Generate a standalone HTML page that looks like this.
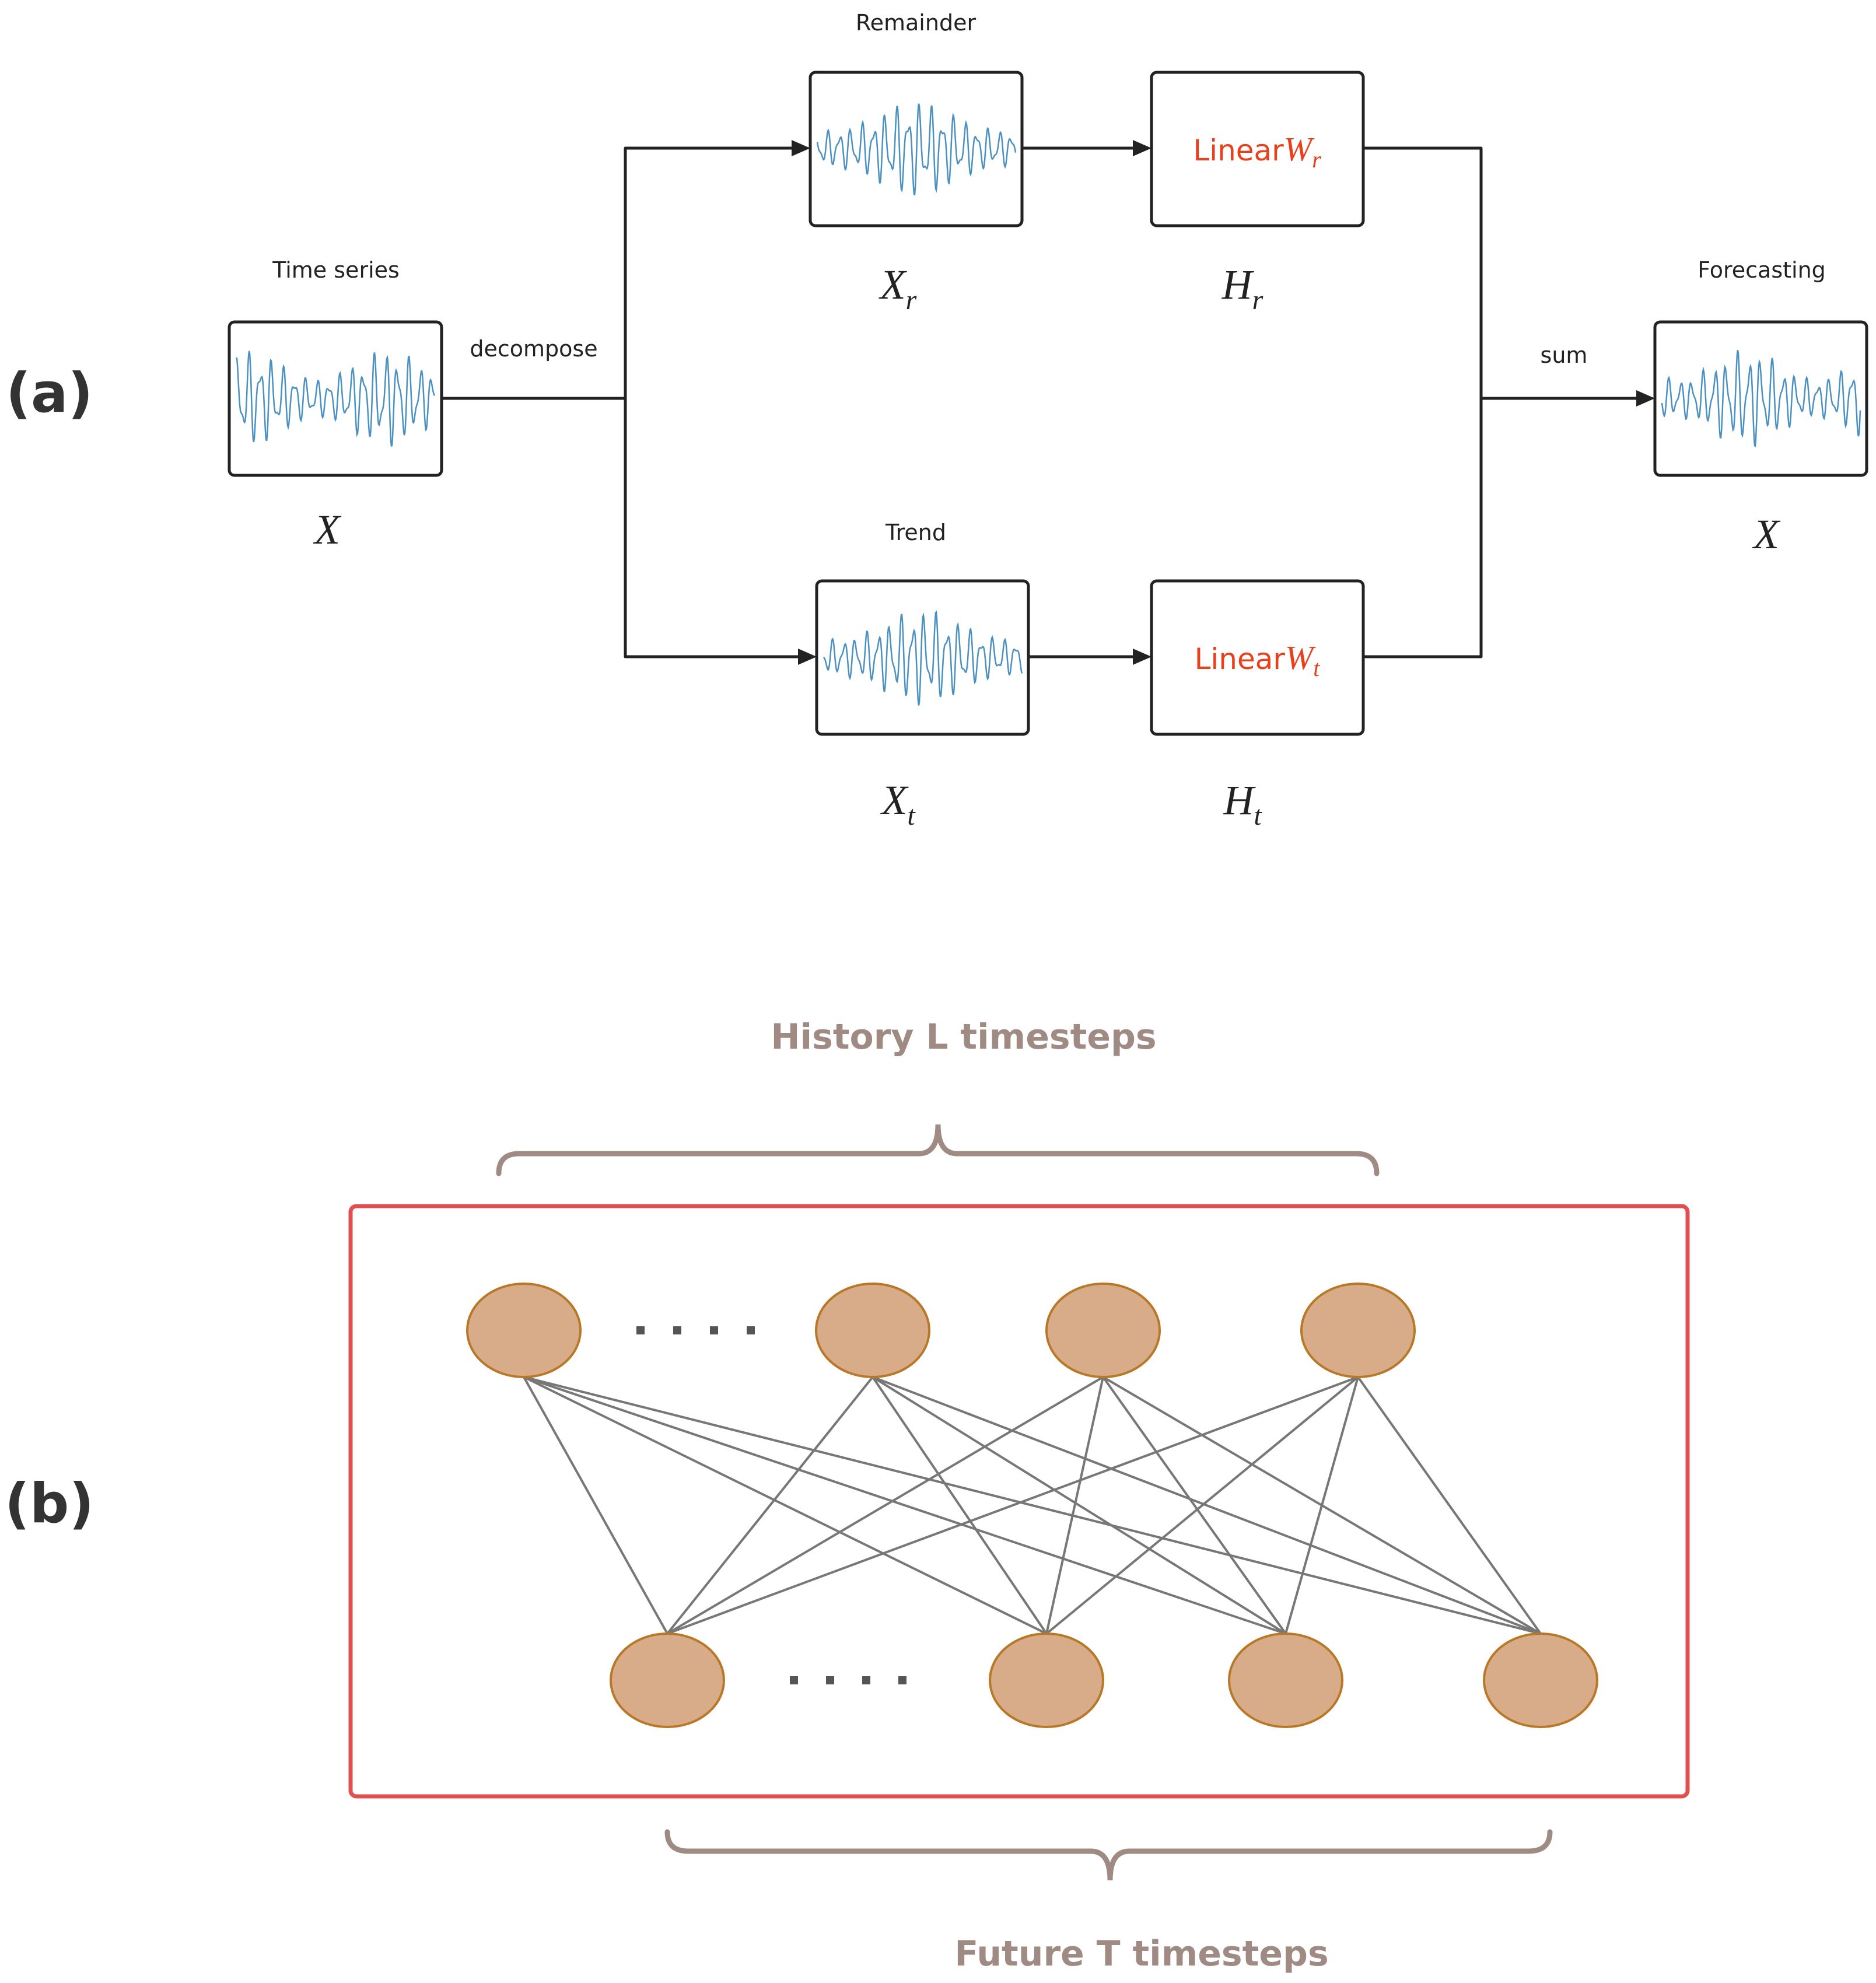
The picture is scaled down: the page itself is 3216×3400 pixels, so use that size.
<!DOCTYPE html>
<html><head><meta charset="utf-8">
<style>
html,body{margin:0;padding:0;background:#fff;}
svg{display:block;}
.lbl{font-family:"DejaVu Sans","Liberation Sans",sans-serif;font-size:38px;fill:#222;}
.math{font-family:"Liberation Serif",serif;font-style:italic;fill:#222;}
.lin{font-family:"DejaVu Sans","Liberation Sans",sans-serif;font-size:50px;fill:#e8401c;}
.big{font-family:"DejaVu Sans","Liberation Sans",sans-serif;font-weight:bold;fill:#333;}
.hdr{font-family:"DejaVu Sans","Liberation Sans",sans-serif;font-weight:bold;font-size:60px;fill:#a08b84;}
</style></head><body>
<svg id="s" width="3216" height="3400" viewBox="0 0 3216 3400" xmlns="http://www.w3.org/2000/svg">
<g fill="none" stroke="#222" stroke-width="5" stroke-linejoin="round">
<rect x="393" y="552" width="364" height="263" rx="9"/>
<rect x="1389" y="124" width="363" height="263" rx="9"/>
<rect x="1974" y="124" width="363" height="263" rx="9"/>
<rect x="1400" y="996" width="363" height="263" rx="9"/>
<rect x="1974" y="996" width="363" height="263" rx="9"/>
<rect x="2837" y="552" width="363" height="263" rx="9"/>
<polyline points="757,683 1072,683"/>
<polyline points="1360,254 1072,254 1072,1126 1371,1126"/>
<line x1="1752" y1="254" x2="1945" y2="254"/>
<line x1="1763" y1="1126" x2="1945" y2="1126"/>
<polyline points="2337,254 2539,254 2539,1126 2337,1126"/>
<line x1="2539" y1="683" x2="2808" y2="683"/>
</g>
<g fill="#222">
<polygon points="1389,254 1357,240 1357,268"/>
<polygon points="1400,1126 1368,1112 1368,1140"/>
<polygon points="1974,254 1942,240 1942,268"/>
<polygon points="1974,1126 1942,1112 1942,1140"/>
<polygon points="2837,683 2805,669 2805,697"/>
</g>
<g id="waves" fill="none" stroke="#4a90c0" stroke-width="2.5"></g>
<text class="lbl" x="576" y="476" text-anchor="middle">Time series</text>
<text class="lbl" x="1570" y="52" text-anchor="middle">Remainder</text>
<text class="lbl" x="1570" y="926" text-anchor="middle">Trend</text>
<text class="lbl" x="3020" y="476" text-anchor="middle">Forecasting</text>
<text class="lbl" x="915" y="611" text-anchor="middle">decompose</text>
<text class="lbl" x="2681" y="622" text-anchor="middle">sum</text>
<text class="math" x="561" y="932" font-size="72" text-anchor="middle">X</text>
<text class="math" x="3028" y="940" font-size="72" text-anchor="middle">X</text>
<text class="math" x="1540" y="512" font-size="72" text-anchor="middle">X<tspan font-size="48" dy="18">r</tspan></text>
<text class="math" x="2130" y="512" font-size="72" text-anchor="middle">H<tspan font-size="48" dy="18">r</tspan></text>
<text class="math" x="1540" y="1396" font-size="72" text-anchor="middle">X<tspan font-size="48" dy="18">t</tspan></text>
<text class="math" x="2130" y="1396" font-size="72" text-anchor="middle">H<tspan font-size="48" dy="18">t</tspan></text>
<text class="lin" x="2155" y="275" text-anchor="middle">Linear<tspan style="font-family:'Liberation Serif',serif;font-style:italic;fill:#e8401c" font-size="58">W</tspan><tspan style="font-family:'Liberation Serif',serif;font-style:italic;fill:#e8401c" font-size="40" dy="12">r</tspan></text>
<text class="lin" x="2155" y="1147" text-anchor="middle">Linear<tspan style="font-family:'Liberation Serif',serif;font-style:italic;fill:#e8401c" font-size="58">W</tspan><tspan style="font-family:'Liberation Serif',serif;font-style:italic;fill:#e8401c" font-size="40" dy="12">t</tspan></text>
<text class="big" x="10" y="706" font-size="94">(a)</text>
<text class="big" x="8" y="2610" font-size="94">(b)</text>

<text class="hdr" x="1652" y="1798" text-anchor="middle">History L timesteps</text>
<text class="hdr" x="1957" y="3370" text-anchor="middle">Future T timesteps</text>
<g fill="none" stroke="#a08b84" stroke-width="9" stroke-linecap="round">
<path d="M855,2012 Q855,1978 890,1978 L1575,1978 Q1608,1978 1608,1928 Q1608,1978 1641,1978 L2325,1978 Q2360,1978 2360,2012"/>
<path d="M1144,3141 Q1144,3174 1180,3174 L1870,3174 Q1903,3174 1903,3224 Q1903,3174 1936,3174 L2620,3174 Q2657,3174 2657,3141"/>
</g>
<rect x="601" y="2068" width="2292" height="1012" rx="10" fill="none" stroke="#e05050" stroke-width="7"/>
<g id="edges" stroke="#777" stroke-width="4"></g>
<g fill="#d8ac88" stroke="#b87828" stroke-width="4">
<ellipse cx="898" cy="2281" rx="97" ry="80"/>
<ellipse cx="1496" cy="2281" rx="97" ry="80"/>
<ellipse cx="1891" cy="2281" rx="97" ry="80"/>
<ellipse cx="2328" cy="2281" rx="97" ry="80"/>
<ellipse cx="1144" cy="2881" rx="97" ry="80"/>
<ellipse cx="1794" cy="2881" rx="97" ry="80"/>
<ellipse cx="2204" cy="2881" rx="97" ry="80"/>
<ellipse cx="2641" cy="2881" rx="97" ry="80"/>
</g>
<g fill="#555">
<rect x="1091" y="2274" width="14" height="14"/><rect x="1154" y="2274" width="14" height="14"/><rect x="1217" y="2274" width="14" height="14"/><rect x="1280" y="2274" width="14" height="14"/>
<rect x="1354" y="2874" width="14" height="14"/><rect x="1416" y="2874" width="14" height="14"/><rect x="1478" y="2874" width="14" height="14"/><rect x="1540" y="2874" width="14" height="14"/>
</g>
</svg>
<script>
var NS="http://www.w3.org/2000/svg";
var e=document.getElementById("edges");
[898,1496,1891,2328].forEach(function(t){[1144,1794,2204,2641].forEach(function(b){
var l=document.createElementNS(NS,"line");l.setAttribute("x1",t);l.setAttribute("y1",2361);l.setAttribute("x2",b);l.setAttribute("y2",2801);e.appendChild(l);});});
var w=document.getElementById("waves");
function wave(x0,y0,seed,env){var d="";for(var i=0;i<=340;i++){var x=x0+12+i;var u=i/340;
var a=env?(0.35+0.65*Math.exp(-Math.pow((u-0.5)/0.25,2))):0.7+0.3*Math.sin(u*9+seed);
var y=y0+131-a*85*(0.75*Math.sin(i*0.32+seed)+0.35*Math.sin(i*0.53+seed*2))/1.1;
d+=(i?"L":"M")+x.toFixed(1)+","+y.toFixed(1);}
var p=document.createElementNS(NS,"path");p.setAttribute("d",d);w.appendChild(p);}
wave(393,552,1,false);wave(1389,124,2,true);wave(1400,996,3,true);wave(2837,552,4,false);
</script>
</body></html>
